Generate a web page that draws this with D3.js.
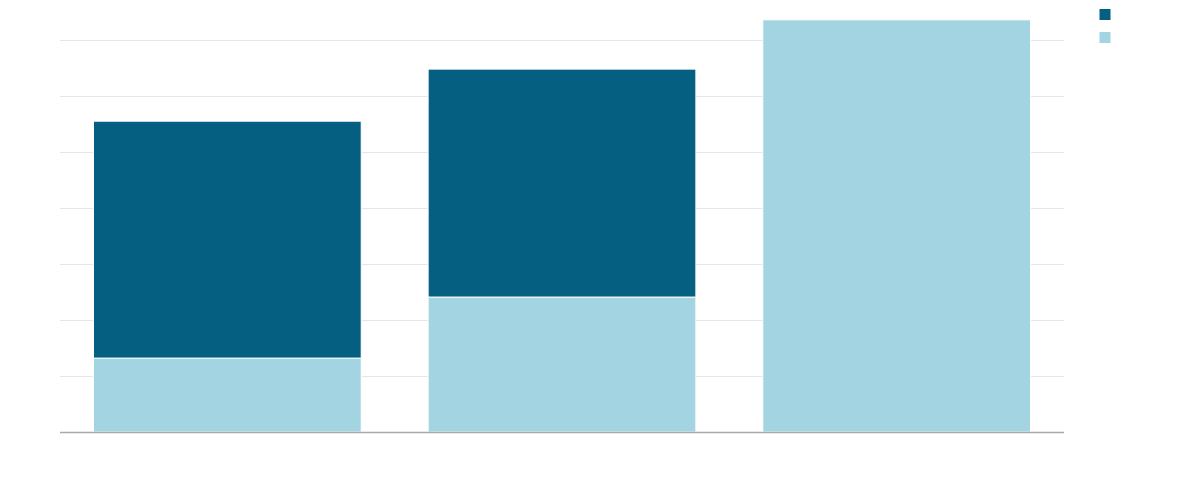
<!DOCTYPE html>
<html><head><meta charset="utf-8">
<script src="https://cdn.jsdelivr.net/npm/d3@7"></script>
<style>html,body{margin:0;padding:0;background:#fff;}svg{display:block;}</style>
</head><body>
<svg id="c" width="1200" height="501"></svg>
<script>
const categories = ["A", "B", "C"];
const seriesNames = ["", ""];
const darkValues = [42.3, 40.7, 0];
const lightValues = [13.2, 24.1, 73.6];
const yTicks = [0, 10, 20, 30, 40, 50, 60, 70];
const colors = ["#055f80", "#a2d4e1"];

const svg = d3.select("#c");
const x = d3.scaleBand().domain(categories).range([60, 1064]).paddingInner(0.2).paddingOuter(0.1);
const y = d3.scaleLinear().domain([0, 70]).range([432, 40]);

svg.append("g").selectAll("line").data(yTicks.slice(1)).join("line")
  .attr("x1", 60).attr("x2", 1064)
  .attr("y1", d => Math.round(y(d)) + 0.5).attr("y2", d => Math.round(y(d)) + 0.5)
  .attr("stroke", "#e6e6e6").attr("stroke-width", 1);

const data = categories.map((c, i) => ({c, light: lightValues[i], dark: darkValues[i]}));
const g = svg.append("g");
data.forEach(d => {
  g.append("rect").attr("x", x(d.c)).attr("width", x.bandwidth())
    .attr("y", y(d.light)).attr("height", y(0) - y(d.light))
    .attr("fill", colors[1]).attr("stroke", "#fff").attr("stroke-width", 1);
  if (d.dark > 0) {
    g.append("rect").attr("x", x(d.c)).attr("width", x.bandwidth())
      .attr("y", y(d.light + d.dark)).attr("height", y(d.light) - y(d.light + d.dark))
      .attr("fill", colors[0]).attr("stroke", "#fff").attr("stroke-width", 1);
  }
});

svg.append("line").attr("x1", 60).attr("x2", 1064).attr("y1", 432.5).attr("y2", 432.5)
  .attr("stroke", "#a8a8a8").attr("stroke-width", 1.5);

const leg = svg.append("g");
seriesNames.forEach((n, i) => {
  leg.append("rect").attr("x", 1099).attr("y", 8.5 + i * 23).attr("width", 12).attr("height", 12)
    .attr("fill", colors[i]).attr("stroke", "#fff").attr("stroke-width", 1);
  leg.append("text").attr("x", 1118).attr("y", 19 + i * 23).attr("font-family", "Open Sans")
    .attr("font-size", 12).attr("fill", "#333").text(n);
});
</script>
</body></html>
